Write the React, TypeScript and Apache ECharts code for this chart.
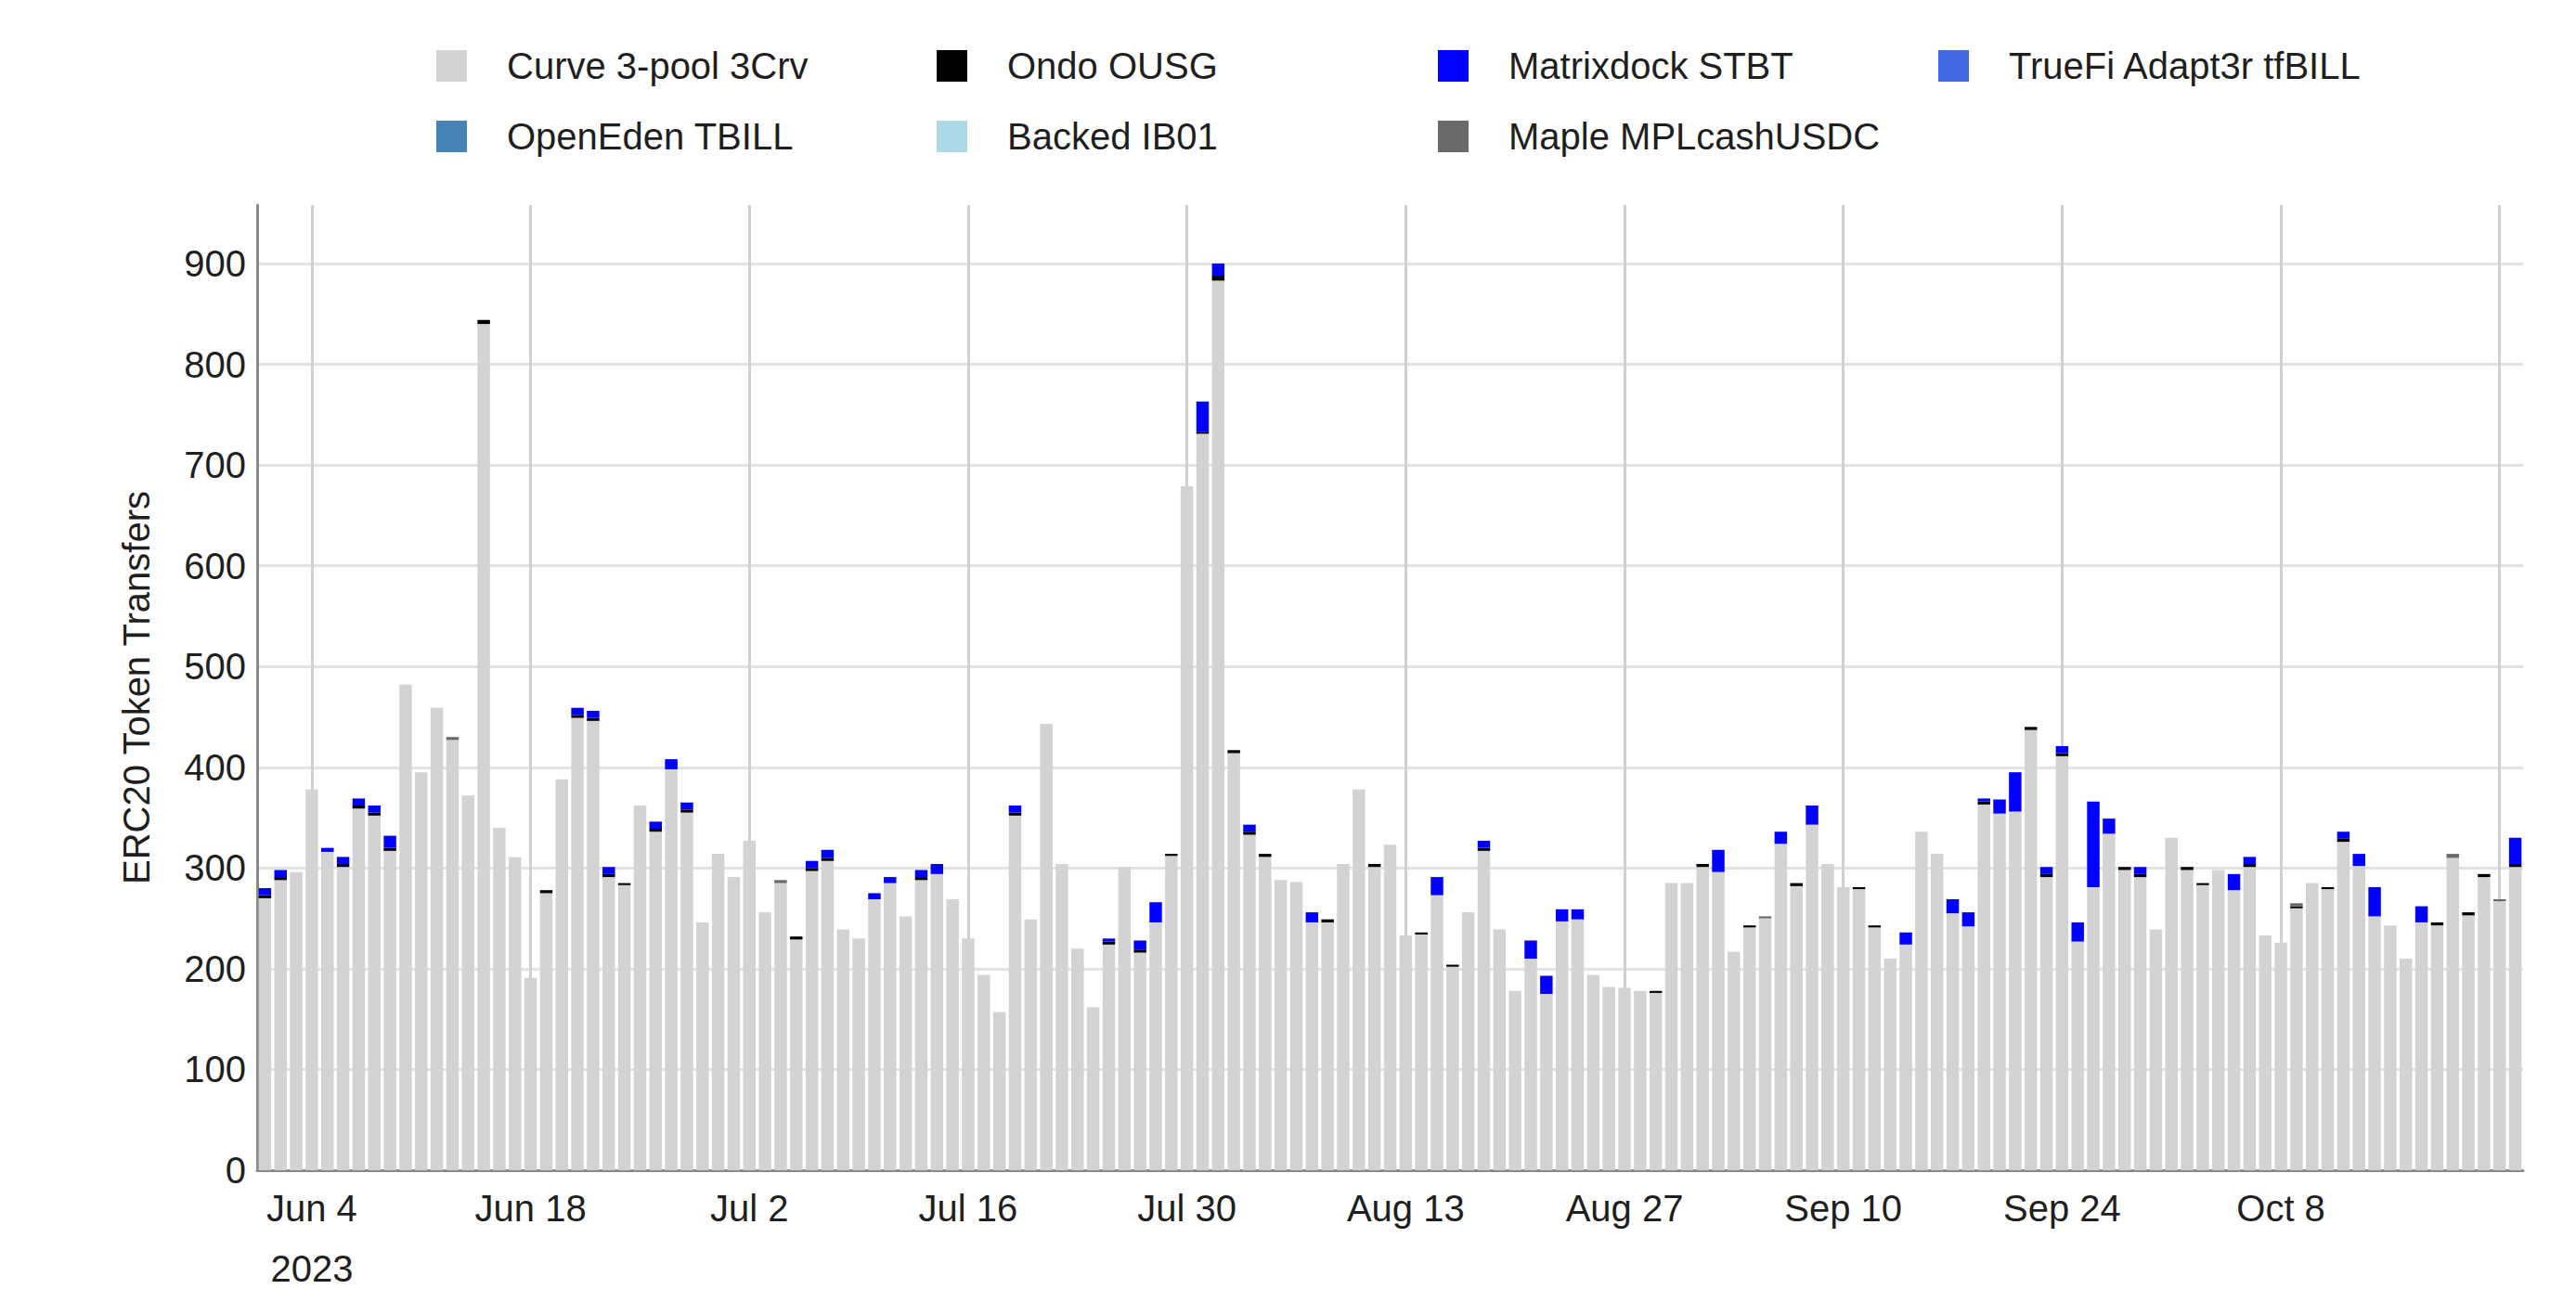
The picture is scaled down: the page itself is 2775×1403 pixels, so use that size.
import React, { useEffect, useRef } from "react";
import * as echarts from "echarts";

// ---------- data ----------
const START_DATE = "2023-06-01";
const TICK_DATES = [
  "2023-06-04", "2023-06-18", "2023-07-02", "2023-07-16", "2023-07-30",
  "2023-08-13", "2023-08-27", "2023-09-10", "2023-09-24", "2023-10-08",
];
const GRID_DATES = [...TICK_DATES, "2023-10-22"];
const YEAR_LABEL_DATE = "2023-06-04";
const MONTHS = ["Jan", "Feb", "Mar", "Apr", "May", "Jun", "Jul", "Aug", "Sep", "Oct", "Nov", "Dec"];

const curve3pool = [
  270, 288, 296, 378, 316, 301, 359, 352, 317, 482, 395, 459, 427, 372, 840, 340, 311, 191, 275, 388,
  449, 446, 291, 283, 362, 336, 398, 355, 246, 314, 291, 327, 256, 285, 229, 297, 307, 239, 230, 269,
  285, 252, 288, 294, 269, 230, 194, 157, 352, 249, 443, 304, 220, 162, 224, 301, 216, 246, 312, 679,
  731, 883, 414, 333, 311, 288, 286, 246, 246, 304, 378, 301, 323, 233, 234, 273, 202, 256, 317, 239,
  178, 210, 175, 247, 249, 194, 182, 181, 178, 176, 285, 285, 301, 296, 217, 241, 250, 324, 282, 343,
  304, 281, 279, 241, 210, 224, 336, 314, 255, 242, 363, 354, 356, 437, 291, 411, 227, 281, 334, 298,
  291, 239, 330, 298, 283, 298, 278, 301, 233, 226, 260, 285, 279, 326, 302, 252, 243, 210, 246, 243,
  310, 253, 291, 267, 301,
];
const ondoOUSG = [
  3, 3, 0, 0, 0, 3, 3, 3, 3, 0, 0, 0, 0, 0, 4, 0, 0, 0, 3, 0,
  3, 3, 3, 2, 0, 3, 0, 3, 0, 0, 0, 0, 0, 0, 3, 3, 3, 0, 0, 0,
  0, 0, 3, 0, 0, 0, 0, 0, 3, 0, 0, 0, 0, 0, 3, 0, 3, 0, 2, 0,
  2, 5, 3, 3, 3, 0, 0, 0, 3, 0, 0, 3, 0, 0, 2, 0, 2, 0, 3, 0,
  0, 0, 0, 0, 0, 0, 0, 0, 0, 2, 0, 0, 3, 0, 0, 2, 0, 0, 3, 0,
  0, 0, 2, 2, 0, 0, 0, 0, 0, 0, 3, 0, 0, 3, 3, 3, 0, 0, 0, 3,
  3, 0, 0, 3, 2, 0, 0, 3, 0, 0, 2, 0, 2, 3, 0, 0, 0, 0, 0, 3,
  0, 3, 3, 0, 3,
];
const matrixdockSTBT = [
  7, 7, 0, 0, 4, 7, 7, 7, 12, 0, 0, 0, 0, 0, 0, 0, 0, 0, 0, 0,
  7, 7, 7, 0, 0, 7, 10, 7, 0, 0, 0, 0, 0, 0, 0, 7, 8, 0, 0, 6,
  6, 0, 7, 10, 0, 0, 0, 0, 7, 0, 0, 0, 0, 0, 3, 0, 9, 20, 0, 0,
  30, 12, 0, 7, 0, 0, 0, 10, 0, 0, 0, 0, 0, 0, 0, 18, 0, 0, 7, 0,
  0, 18, 18, 12, 10, 0, 0, 0, 0, 0, 0, 0, 0, 22, 0, 0, 0, 12, 0, 19,
  0, 0, 0, 0, 0, 12, 0, 0, 14, 14, 3, 14, 39, 0, 7, 7, 19, 85, 15, 0,
  7, 0, 0, 0, 0, 0, 16, 7, 0, 0, 0, 0, 0, 7, 12, 29, 0, 0, 16, 0,
  0, 0, 0, 0, 26,
];
const truefiTfBILL = new Array(145).fill(0);
const openEdenTBILL = new Array(145).fill(0);
const backedIB01 = new Array(145).fill(0);
const mapleMPLcashUSDC = [
  0, 0, 0, 0, 0, 0, 0, 0, 0, 0, 0, 0, 3, 0, 0, 0, 0, 0, 0, 0,
  0, 0, 0, 0, 0, 0, 0, 0, 0, 0, 0, 0, 0, 3, 0, 0, 0, 0, 0, 0,
  0, 0, 0, 0, 0, 0, 0, 0, 0, 0, 0, 0, 0, 0, 0, 0, 0, 0, 0, 0,
  0, 0, 0, 0, 0, 0, 0, 0, 0, 0, 0, 0, 0, 0, 0, 0, 0, 0, 0, 0,
  0, 0, 0, 0, 0, 0, 0, 0, 0, 0, 0, 0, 0, 0, 0, 0, 2, 0, 0, 0,
  0, 0, 0, 0, 0, 0, 0, 0, 0, 0, 0, 0, 0, 0, 0, 0, 0, 0, 0, 0,
  0, 0, 0, 0, 0, 0, 0, 0, 0, 0, 3, 0, 0, 0, 0, 0, 0, 0, 0, 0,
  4, 0, 0, 2, 0,
];

const SERIES = [
  { name: "Curve 3-pool 3Crv", data: curve3pool, color: "#D3D3D3" },
  { name: "Ondo OUSG", data: ondoOUSG, color: "#000000" },
  { name: "Matrixdock STBT", data: matrixdockSTBT, color: "#0000FF" },
  { name: "TrueFi Adapt3r tfBILL", data: truefiTfBILL, color: "#4169E1" },
  { name: "OpenEden TBILL", data: openEdenTBILL, color: "#4682B4" },
  { name: "Backed IB01", data: backedIB01, color: "#ADD8E6" },
  { name: "Maple MPLcashUSDC", data: mapleMPLcashUSDC, color: "#696969" },
];

function buildDates(start: string, n: number): string[] {
  const out: string[] = [];
  const t0 = new Date(start + "T00:00:00Z").getTime();
  for (let i = 0; i < n; i++) {
    out.push(new Date(t0 + i * 86400000).toISOString().slice(0, 10));
  }
  return out;
}

const DATES = buildDates(START_DATE, curve3pool.length);

// ---------- layout ----------
const W = 2775;
const H = 1403;
const FONT = "'Liberation Sans', Arial, sans-serif";
const TEXT_COLOR = "#1f1f1f";
const LEGEND_LAYOUT = [
  { left: 470, top: 51 },
  { left: 1009, top: 51 },
  { left: 1549, top: 51 },
  { left: 2088, top: 51 },
  { left: 470, top: 127 },
  { left: 1009, top: 127 },
  { left: 1549, top: 127 },
];

function formatDate(v: string): string {
  const [y, m, d] = v.split("-");
  let s = `${MONTHS[Number(m) - 1]} ${Number(d)}`;
  if (v === YEAR_LABEL_DATE) s += `\n${y}`;
  return s;
}

export default function App() {
  const ref = useRef<HTMLDivElement>(null);

  useEffect(() => {
    document.body.style.margin = "0";
    if (!ref.current) return;
    const chart = echarts.init(ref.current, null, { renderer: "svg" });

    const legends = SERIES.map((s, i) => ({
      data: [s.name],
      left: LEGEND_LAYOUT[i].left,
      top: LEGEND_LAYOUT[i].top,
      padding: 0,
      icon: "rect",
      itemWidth: 33,
      itemHeight: 34,
      textStyle: {
        fontSize: 40,
        fontFamily: FONT,
        color: TEXT_COLOR,
        lineHeight: 34,
        padding: [0, 0, 0, 38],
      },
    }));

    chart.setOption({
      animation: false,
      backgroundColor: "#ffffff",
      legend: legends,
      grid: { left: 277, right: W - 2718, top: 221, bottom: H - 1261, containLabel: false },
      xAxis: {
        type: "category",
        data: DATES,
        boundaryGap: true,
        axisLine: { show: true, lineStyle: { color: "#8a8a8a", width: 3 } },
        axisTick: { show: false },
        axisLabel: {
          interval: (_i: number, v: string) => TICK_DATES.includes(v),
          formatter: (v: string) => formatDate(v),
          fontSize: 40,
          fontFamily: FONT,
          color: TEXT_COLOR,
          lineHeight: 65,
          margin: 8,
        },
        splitLine: {
          show: true,
          interval: (_i: number, v: string) => GRID_DATES.includes(v),
          alignWithLabel: true,
          lineStyle: { color: "#d0d0d0", width: 3 },
        },
      },
      yAxis: {
        type: "value",
        min: 0,
        max: 958,
        interval: 100,
        name: "ERC20 Token Transfers",
        nameLocation: "middle",
        nameRotate: 90,
        nameGap: 110,
        nameTextStyle: { fontSize: 40, fontFamily: FONT, color: TEXT_COLOR },
        axisLine: { show: true, lineStyle: { color: "#8a8a8a", width: 3 } },
        axisTick: { show: false },
        axisLabel: {
          fontSize: 40,
          fontFamily: FONT,
          color: TEXT_COLOR,
          margin: 12,
          formatter: (v: number) => (v % 100 === 0 ? String(v) : ""),
        },
        splitLine: {
          show: true,
          showMaxLine: false,
          lineStyle: { color: "#e2e2e2", width: 3 },
        },
      },
      series: SERIES.map((s) => ({
        name: s.name,
        type: "bar",
        stack: "total",
        data: s.data,
        barCategoryGap: "20%",
        itemStyle: { color: s.color },
        emphasis: { disabled: true },
      })),
    });

    return () => chart.dispose();
  }, []);

  return <div ref={ref} style={{ width: W, height: H }} />;
}
